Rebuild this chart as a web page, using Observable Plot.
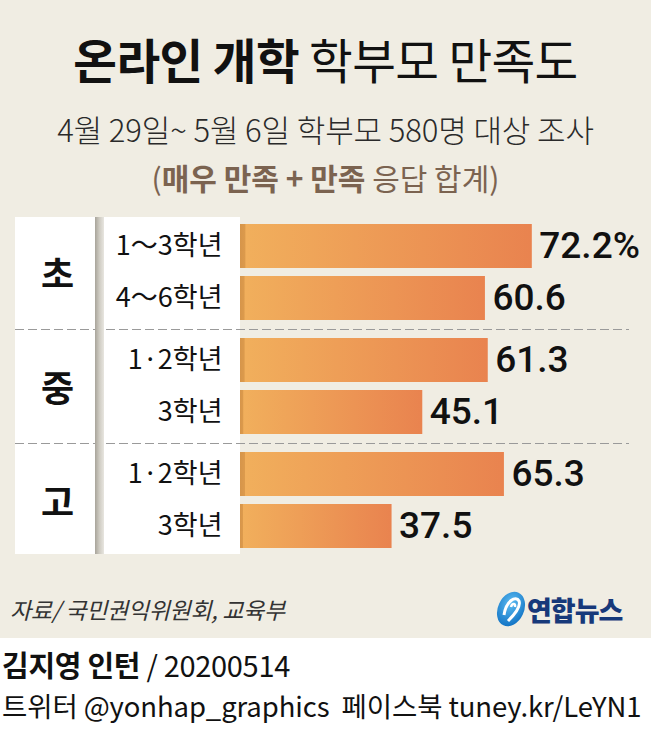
<!DOCTYPE html>
<html><head><meta charset="utf-8">
<script src="https://cdn.jsdelivr.net/npm/d3@7"></script>
<script src="https://cdn.jsdelivr.net/npm/@observablehq/plot@0.6"></script>
<style>
html,body{margin:0;padding:0;background:#fff;}
#root{position:relative;width:651px;height:731px;overflow:hidden;font-family:"Noto Sans CJK KR",sans-serif;color:#111;}
.bg{position:absolute;left:0;top:0;width:651px;height:638px;background:#f0ede3;}
.abs{position:absolute;white-space:nowrap;}
#title{left:0;width:651px;top:31px;text-align:center;font-size:47.5px;line-height:56px;letter-spacing:-0.6px;}
#title b{font-weight:700;} #title span{font-weight:400;}
#sub{left:0;width:651px;top:110px;text-align:center;font-size:31px;line-height:38px;color:#2a2a2a;font-weight:300;letter-spacing:-0.1px;}
#sub2{left:0;width:651px;top:158px;text-align:center;font-size:30px;line-height:38px;color:#7b6350;}
#sub2 b{font-weight:700;}
#panel{left:15px;top:217px;width:225px;height:337px;background:#fff;}
#stripe{left:95px;top:217px;width:9px;height:337px;background:linear-gradient(to right,#a8a49a,#cfccc3 50%,#e8e6e0);z-index:3;}
#chart{left:0;top:215px;z-index:2;}
#source{left:10px;top:593px;font-size:23px;line-height:32px;font-style:italic;color:#333;letter-spacing:-0.3px;}
#logo{left:494px;top:585px;}
#credit{left:2px;top:646px;font-size:29px;line-height:36px;letter-spacing:-0.3px;}
#credit b{font-weight:700;}
#sns{left:2px;top:687px;font-size:27.5px;line-height:36px;letter-spacing:-0.1px;}
</style>
</head><body>
<div id="root">
  <div class="bg"></div>
  <div id="title" class="abs"><b>온라인 개학</b> <span>학부모 만족도</span></div>
  <div id="sub" class="abs">4월 29일~ 5월 6일 학부모 580명 대상 조사</div>
  <div id="sub2" class="abs">(<b>매우 만족 + 만족</b> 응답 합계)</div>
  <div id="panel" class="abs"></div>
  <div id="stripe" class="abs"></div>
  <div id="chart" class="abs"></div>
  <div id="source" class="abs">자료/ 국민권익위원회, 교육부</div>
  <svg id="logo" class="abs" width="145" height="48" viewBox="0 0 145 48">
    <defs><radialGradient id="lg" cx="0.4" cy="0.35" r="0.75"><stop offset="0" stop-color="#5cbcf2"/><stop offset="1" stop-color="#0b6dc0"/></radialGradient></defs>
    <ellipse cx="17" cy="24" rx="13" ry="18" transform="rotate(25 17 24)" fill="url(#lg)"/>
    <path d="M10 30 C 12 16, 22 10, 25 16 C 27 21, 20 30, 14 36" fill="none" stroke="#fff" stroke-width="3"/>
    <path d="M17 22 C 18 18, 22 18, 21 22" fill="none" stroke="#fff" stroke-width="2.5"/>
    <text x="33" y="36" font-size="27" font-weight="900" fill="#17397a" letter-spacing="-1" font-family="Noto Sans CJK KR">연합뉴스</text>
  </svg>
  <div id="credit" class="abs"><b>김지영 인턴</b> / 20200514</div>
  <div id="sns" class="abs">트위터 @yonhap_graphics&nbsp; 페이스북 tuney.kr/LeYN1</div>
</div>
<script>
// ---- data ----
const groups = ["초", "중", "고"];
const groupOf = ["초", "초", "중", "중", "고", "고"];
const subLabels = ["1～3학년", "4～6학년", "1·2학년", "3학년", "1·2학년", "3학년"];
const values = [72.2, 60.6, 61.3, 45.1, 65.3, 37.5];
const unitLabel = "%";

const rows = values.map((v, i) => ({
  group: groupOf[i],
  sub: subLabels[i],
  slot: i % 2,
  value: v,
  label: v.toFixed(1) + (i === 0 ? unitLabel : "")
}));

const chart = Plot.plot({
  width: 651,
  height: 342,
  marginLeft: 240,
  marginRight: 23,
  marginTop: 0,
  marginBottom: 0,
  style: {background: "transparent", color: "#111", fontFamily: "'Noto Sans CJK KR', sans-serif", overflow: "visible"},
  x: {domain: [0, 96], axis: null},
  y: {axis: null, paddingInner: 0.154, paddingOuter: 0.173},
  fy: {domain: groups, padding: 0},
  marks: [
    ...groups.slice(1).map(g => Plot.frame({
      anchor: "top", fy: () => g, stroke: "#9a9a9a", strokeWidth: 1,
      strokeDasharray: "8,5", insetLeft: -225
    })),
    Plot.barX(rows, {x: "value", y: "slot", fy: "group", fill: "url(#barGrad)"}),
    Plot.text(rows, {
      x: "value", y: "slot", fy: "group", text: "label",
      textAnchor: "start", dx: 7, fontSize: 37, fontWeight: 500,
      fontFamily: "Roboto", fill: "#111", ariaLabel: "value-label"
    }),
    Plot.text(rows, {
      y: "slot", fy: "group", text: "sub", frameAnchor: "left",
      textAnchor: "end", dx: -18, fontSize: 27, fill: "#111", ariaLabel: "sub-label"
    }),
    Plot.axisFy({
      anchor: "left", tickSize: 0, tickPadding: 183, textAnchor: "middle",
      fontSize: 36, fontWeight: 700, dy: 4, label: null
    })
  ]
});

const svg = d3.select(chart);
svg.insert("defs", ":first-child").html(
  '<linearGradient id="barGrad" x1="0" x2="1" y1="0" y2="0">' +
  '<stop offset="0" stop-color="#d6954a"/>' +
  '<stop offset="0.017" stop-color="#dc9a4c"/>' +
  '<stop offset="0.02" stop-color="#f1af5c"/>' +
  '<stop offset="1" stop-color="#e9834f"/>' +
  '</linearGradient>'
);
svg.selectAll('g[aria-label="value-label"] text')
  .style("letter-spacing", "-1.5px")
  .each(function () {
    const t = this.textContent;
    if (t.endsWith(unitLabel)) {
      this.textContent = t.slice(0, -unitLabel.length);
      d3.select(this).append("tspan").attr("font-size", 27).attr("dx", 2).text(unitLabel);
    }
  });
document.getElementById("chart").appendChild(chart);
</script>
</body></html>
